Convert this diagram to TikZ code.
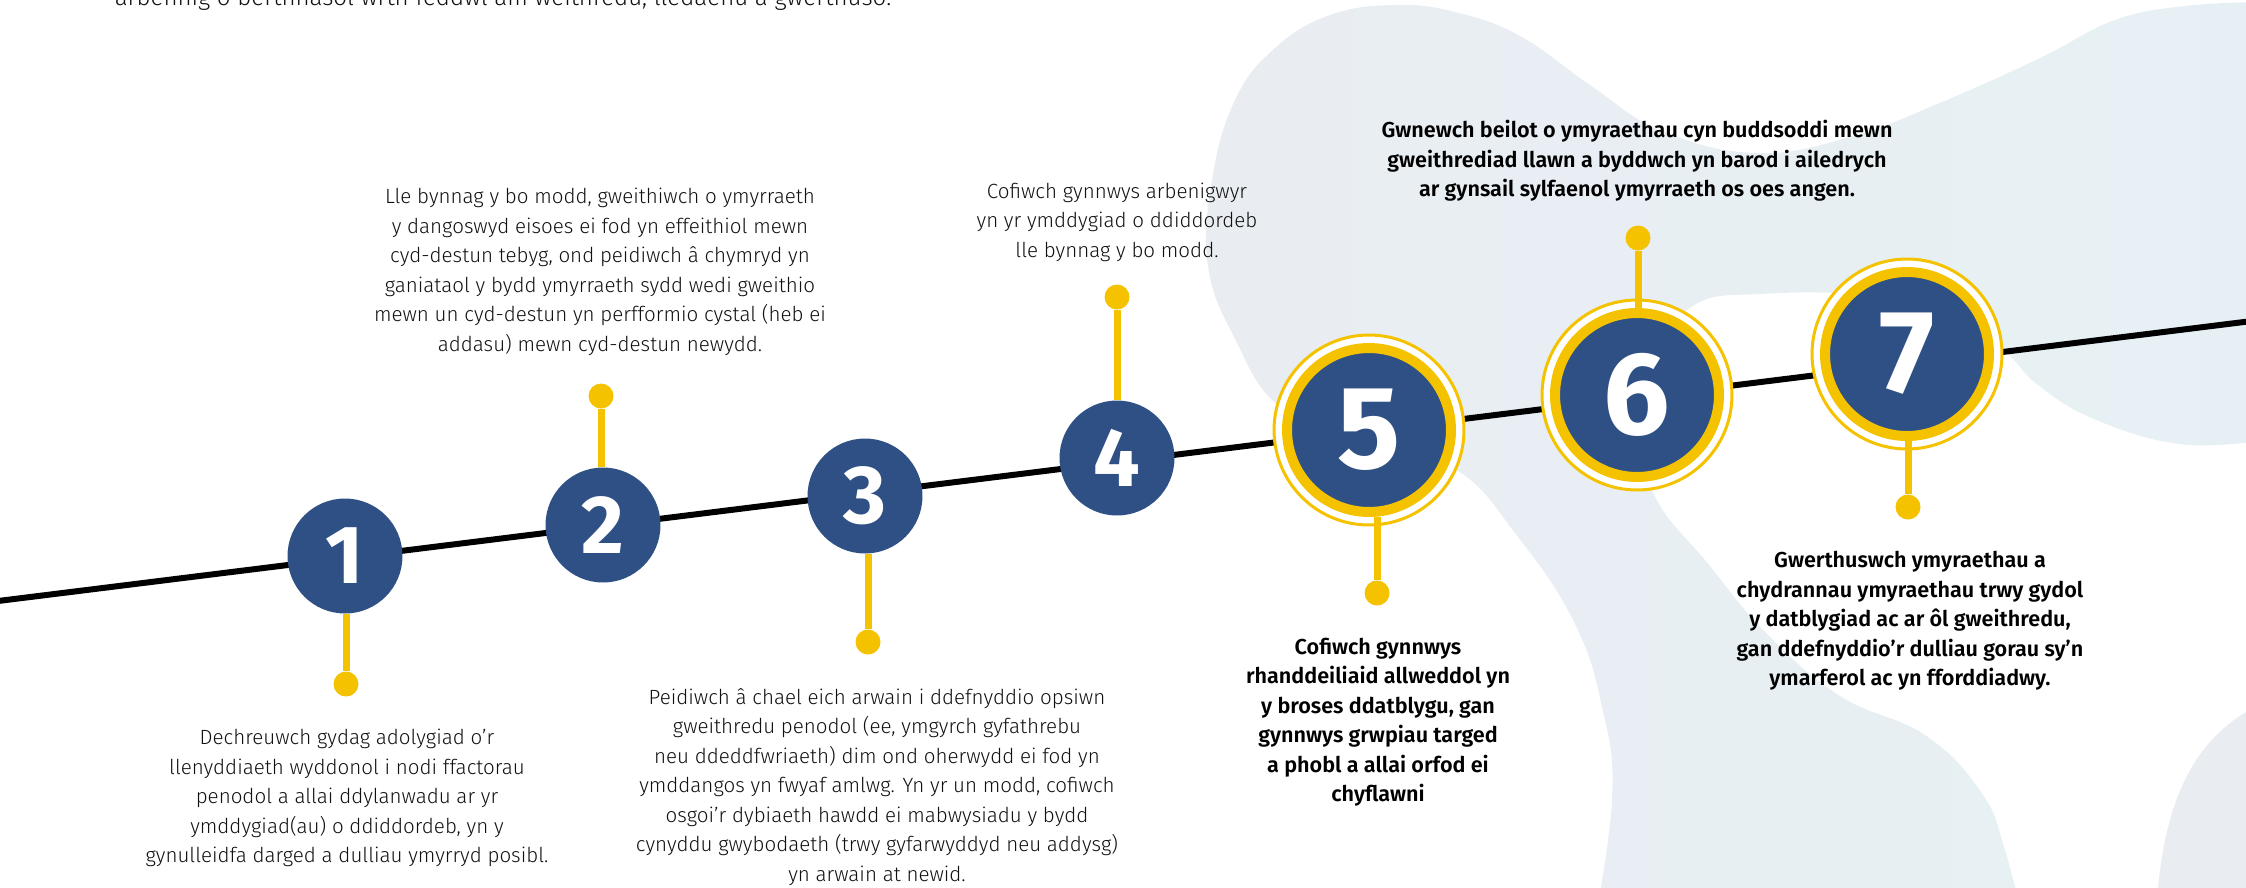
\documentclass[tikz,border=0pt]{standalone}
\usepackage{fontspec}
\setmainfont{Fira Sans Light}[BoldFont={Fira Sans SemiBold}]
\newfontfamily\zahlfont{Fira Sans Bold}
\definecolor{dunkelblau}{HTML}{2E5085}
\definecolor{gelb}{HTML}{F5C200}
\definecolor{blobL}{HTML}{E9EDF2}
\definecolor{blobR}{HTML}{E6F1F4}
\definecolor{blobU}{HTML}{E9ECF1}
\definecolor{textgrau}{HTML}{111111}
\begin{document}
\begin{tikzpicture}[
    x=0.02cm, y=-0.02cm,
    kreis/.style={circle, fill=dunkelblau, inner sep=0pt, minimum size=2.3cm, text=white, font=\zahlfont\fontsize{47}{47}\selectfont},
    grosskreis/.style={circle, fill=dunkelblau, draw=gelb, line width=0.2cm, inner sep=0pt, minimum size=3.28cm, text=white, font=\zahlfont\fontsize{67}{67}\selectfont},
    ring/.style={draw=gelb, fill=white, line width=0.06cm},
    punkt/.style={circle, fill=gelb, inner sep=0pt, minimum size=0.5cm},
    stiel/.style={draw=gelb, line width=0.14cm},
    linie/.style={draw=black, line width=0.12cm},
    body/.style={align=center, text=textgrau, font=\fontsize{11.7}{16.8}\selectfont},
    fett/.style={align=center, text=black, font=\bfseries\fontsize{12.3}{16.8}\selectfont}
]
\useasboundingbox (0,0) rectangle (2246,887);
\clip (0,0) rectangle (2246,887);

% Hintergrund
\shade[left color=blobL, right color=blobR] (1590,950)
    -- plot[smooth, tension=0.7] coordinates {(1590,950) (1612,800) (1602,707) (1574,622) (1518,537) (1455,469) (1365,445) (1280,407) (1235,339) (1208,266) (1212,180) (1235,100) (1275,48) (1330,15) (1395,5) (1455,12) (1520,36) (1590,85) (1660,130) (1755,153) (1850,137) (1942,102) (2040,58) (2115,20) (2185,6) (2260,2)}
    -- (2400,-50) -- (2400,441)
    -- plot[smooth, tension=0.7] coordinates {(2260,441) (2179,444) (2094,419) (2038,385) (2004,351) (1950,316) (1900,299) (1840,293) (1760,294) (1700,302) (1668,340) (1650,420) (1653,492) (1710,566) (1766,633) (1840,696) (1925,735) (1981,792) (2005,850) (2030,950)}
    -- cycle;
\fill[blobU] (2157,900) .. controls (2165,790) and (2200,740) .. (2246,712) -- (2260,712) -- (2260,900) -- cycle;

% Einleitung (oben abgeschnitten)
\node[body, anchor=base, font=\fontsize{13.7}{16.8}\selectfont] (intro) at (503,5) {arbennig o berthnasol wrth feddwl am weithredu, lledaenu a gwerthuso.};

% Zeitstrahl
\coordinate (lstart) at (-10,602);
\coordinate (lend) at (2260,320);
\draw[linie] (lstart) -- (lend);

% Ringe um die grossen Kreise
\draw[ring] (1369,430) circle[radius=1.9cm];
\draw[ring] (1637,395) circle[radius=1.9cm];
\draw[ring] (1907,354) circle[radius=1.9cm];

% Nummernkreise
\node[kreis] (num1) at (345,556) {1};
\node[kreis] (num2) at (603,525) {2};
\node[kreis] (num3) at (865,496) {3};
\node[kreis] (num4) at (1117,458) {4};
\node[grosskreis] (num5) at (1369,430) {5};
\node[grosskreis] (num6) at (1637,395) {6};
\node[grosskreis] (num7) at (1907,354) {7};

% Endpunkte
\node[punkt] (dot1) at (346,684) {};
\node[punkt] (dot2) at (601,396) {};
\node[punkt] (dot3) at (868,642) {};
\node[punkt] (dot4) at (1117,297) {};
\node[punkt] (dot5) at (1377,593) {};
\node[punkt] (dot6) at (1638,238) {};
\node[punkt] (dot7) at (1908,507) {};

% Stiele
\draw[stiel] (dot1) -- (dot1 |- num1.south);
\draw[stiel] (dot2) -- (dot2 |- num2.north);
\draw[stiel] (dot3) -- (dot3 |- num3.south);
\draw[stiel] (dot4) -- (dot4 |- num4.north);
\draw[stiel] (dot5) -- (dot5 |- num5.south);
\draw[stiel] (dot6) -- (dot6 |- num6.north);
\draw[stiel] (dot7) -- (dot7 |- num7.south);

% Texte
\node[body] (txt1) at (347,798) {Dechreuwch gydag adolygiad o’r\\llenyddiaeth wyddonol i nodi ffactorau\\penodol a allai ddylanwadu ar yr\\ymddygiad(au) o ddiddordeb, yn y\\gynulleidfa darged a dulliau ymyrryd posibl.};
\node[body] (txt2) at (600,272) {Lle bynnag y bo modd, gweithiwch o ymyrraeth\\y dangoswyd eisoes ei fod yn effeithiol mewn\\cyd-destun tebyg, ond peidiwch â chymryd yn\\ganiataol y bydd ymyrraeth sydd wedi gweithio\\mewn un cyd-destun yn perfformio cystal (heb ei\\addasu) mewn cyd-destun newydd.};
\node[body] (txt3) at (877,787) {Peidiwch â chael eich arwain i ddefnyddio opsiwn\\gweithredu penodol (ee, ymgyrch gyfathrebu\\neu ddeddfwriaeth) dim ond oherwydd ei fod yn\\ymddangos yn fwyaf amlwg. Yn yr un modd, cofiwch\\osgoi’r dybiaeth hawdd ei mabwysiadu y bydd\\cynyddu gwybodaeth (trwy gyfarwyddyd neu addysg)\\yn arwain at newid.};
\node[body] (txt4) at (1117,222) {Cofiwch gynnwys arbenigwyr\\yn yr ymddygiad o ddiddordeb\\lle bynnag y bo modd.};
\node[fett] (txt5) at (1378,722) {Cofiwch gynnwys\\rhanddeiliaid allweddol yn\\y broses ddatblygu, gan\\gynnwys grwpiau targed\\a phobl a allai orfod ei\\chyflawni};
\node[fett] (txt6) at (1637,161) {Gwnewch beilot o ymyraethau cyn buddsoddi mewn\\gweithrediad llawn a byddwch yn barod i ailedrych\\ar gynsail sylfaenol ymyrraeth os oes angen.};
\node[fett] (txt7) at (1910,621) {Gwerthuswch ymyraethau a\\chydrannau ymyraethau trwy gydol\\y datblygiad ac ar ôl gweithredu,\\gan ddefnyddio’r dulliau gorau sy’n\\ymarferol ac yn fforddiadwy.};
\end{tikzpicture}
\end{document}
